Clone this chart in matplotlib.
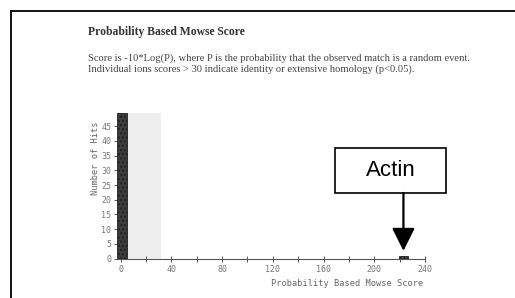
import matplotlib
matplotlib.use('Agg')
import matplotlib.pyplot as plt
from matplotlib.patches import Rectangle
from matplotlib.lines import Line2D

# histogram bins
bin_left = [-3, 219.7]
bin_width = [8.5, 7.0]
hits = [49.5, 1.0]
threshold = 32
xticks = [0, 40, 80, 120, 160, 200, 240]
yticks = [0, 5, 10, 15, 20, 25, 30, 35, 40, 45]
actin_score = 223

W, H = 515, 298
fig = plt.figure(figsize=(W/100, H/100), dpi=100)
fig.patch.set_facecolor('white')

def fx(px):
    return px/W
def fy(py):
    return 1-py/H

# page frame (left and top edges)
fig.add_artist(Line2D([fx(11), fx(11)], [fy(11), fy(298)], color='black', lw=1.3))
fig.add_artist(Line2D([fx(11), fx(515)], [fy(11), fy(11)], color='black', lw=1.3))

fig.text(fx(88), fy(32), 'Probability Based Mowse Score', family='Liberation Serif',
         weight='bold', fontsize=8.4, color='#333333', va='center')
fig.text(fx(88), fy(58), 'Score is -10*Log(P), where P is the probability that the observed match is a random event.',
         family='Liberation Serif', fontsize=7.6, color='#444444', va='center')
fig.text(fx(88), fy(69), 'Individual ions scores > 30 indicate identity or extensive homology (p<0.05).',
         family='Liberation Serif', fontsize=7.6, color='#444444', va='center')

ax = fig.add_axes([fx(116.7), fy(258.5), (425-116.7)/W, (258.5-113)/H])
ax.set_xlim(-3, 240)
ax.set_ylim(0, 49.5)
ax.axvspan(-3, threshold, color='#eeeeee', lw=0, zorder=0)
ax.bar(bin_left, hits, width=bin_width, align='edge', color='#3c3c3c',
       edgecolor='#222222', lw=0.6, hatch='....', zorder=2)

for s in ['top', 'right']:
    ax.spines[s].set_visible(False)
ax.spines['left'].set_visible(False)
ax.spines['bottom'].set_color('#555555')
ax.spines['bottom'].set_linewidth(0.8)

ax.set_xticks(xticks)
ax.set_xticks(range(20, 240, 40), minor=True)
ax.set_yticks(yticks)
ax.tick_params(axis='x', which='both', direction='inout', length=4, width=0.7,
               colors='#555555', labelsize=6, pad=3)
ax.tick_params(axis='y', direction='out', length=2, width=0.7,
               colors='#555555', labelsize=6, pad=2)
for lab in ax.get_xticklabels() + ax.get_yticklabels():
    lab.set_family('DejaVu Sans Mono')
    lab.set_color('#777777')

fig.text(fx(423), fy(283), 'Probability Based Mowse Score', family='DejaVu Sans Mono',
         fontsize=6.2, color='#666666', ha='right', va='center')
fig.text(fx(95), fy(158), 'Number of Hits', family='DejaVu Sans Mono',
         fontsize=6.2, color='#666666', ha='center', va='center', rotation=90)

# Actin call-out
fig.add_artist(Rectangle((fx(335), fy(193)), (446-335)/W, (193-148)/H,
                         transform=fig.transFigure, fill=False, ec='black', lw=1.2))
fig.text(fx(390.5), fy(171), 'Actin', family='Liberation Sans', fontsize=16,
         ha='center', va='center')
ax.annotate('', xy=(actin_score, 2.6), xytext=(actin_score, 22.3),
            arrowprops=dict(arrowstyle='-|>,head_length=0.7,head_width=0.35',
                            mutation_scale=20, color='black', lw=1.6,
                            shrinkA=0, shrinkB=0),
            annotation_clip=False)

fig.savefig('out.png', dpi=100)
